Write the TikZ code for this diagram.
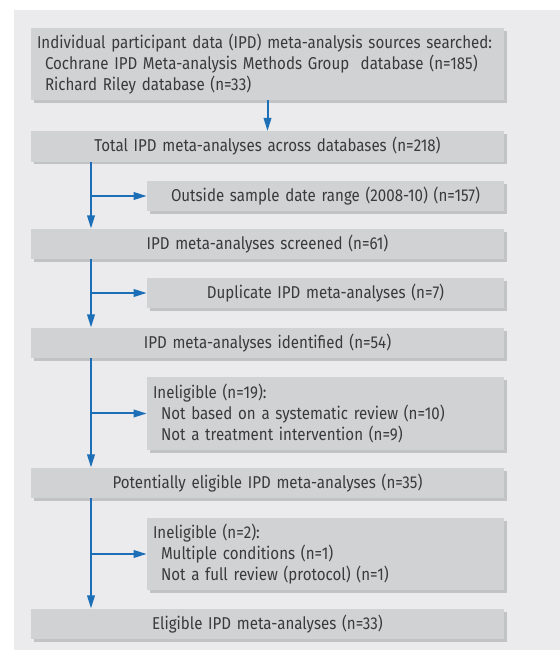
\documentclass[tikz,border=0pt]{standalone}
\usepackage{fontspec}
\setmainfont{Fira Sans}[FakeStretch=0.88]
\usepackage{xcolor}
\usetikzlibrary{arrows.meta,shadows}

\definecolor{panelgray}{HTML}{EBEBED}
\definecolor{boxgray}{HTML}{D1D2D4}
\definecolor{shadegray}{HTML}{C2C3C5}
\definecolor{flowblue}{HTML}{1C6FB7}
\definecolor{textgray}{HTML}{3A3A3C}

\begin{document}
\begin{tikzpicture}[
	box/.style={fill=boxgray, text=textgray, inner xsep=0.15cm, inner ysep=0pt,
		font=\fontsize{12.2}{14.9}\selectfont,
		drop shadow={shadow xshift=0.07cm, shadow yshift=-0.07cm, fill=shadegray, opacity=1}},
	mainbox/.style={box, minimum width=11.825cm, text width=11.525cm, minimum height=0.76cm},
	sidebox/.style={box, minimum width=8.925cm, text width=8.625cm, minimum height=0.76cm},
	flow/.style={draw=flowblue, line width=0.05cm, -{Triangle[length=0.33cm, width=0.19cm]}}
]
	\useasboundingbox (0, 0) rectangle (14, 16.25);
	\fill[panelgray] (0.35, 0) rectangle (14, 16);

	\node[mainbox, align=left, minimum height=1.8cm] (b1) at (6.6875, 14.65)
		{Individual participant data (IPD) meta-analysis sources searched:\\
		\hspace*{0.2cm}Cochrane IPD Meta-analysis Methods Group\ \ database (n=185)\\
		\hspace*{0.2cm}Richard Riley database (n=33)};
	\node[mainbox, align=center] (b2) at (6.6875, 12.5875) {Total IPD meta-analyses across databases (n=218)};
	\node[sidebox, align=center] (b3) at (8.1375, 11.35) {Outside sample date range (2008-10) (n=157)};
	\node[mainbox, align=center] (b4) at (6.6875, 10.15) {IPD meta-analyses screened (n=61)};
	\node[sidebox, align=center] (b5) at (8.1375, 8.925) {Duplicate IPD meta-analyses (n=7)};
	\node[mainbox, align=center] (b6) at (6.6875, 7.675) {IPD meta-analyses identified (n=54)};
	\node[sidebox, align=left, minimum height=1.825cm] (b7) at (8.1375, 5.9125)
		{Ineligible (n=19):\\
		\hspace*{0.2cm}Not based on a systematic review (n=10)\\
		\hspace*{0.2cm}Not a treatment intervention (n=9)};
	\node[mainbox, align=center] (b8) at (6.6875, 4.175) {Potentially eligible IPD meta-analyses (n=35)};
	\node[sidebox, align=left, minimum height=1.8cm] (b9) at (8.1375, 2.4)
		{Ineligible (n=2):\\
		\hspace*{0.2cm}Multiple conditions (n=1)\\
		\hspace*{0.2cm}Not a full review (protocol) (n=1)};
	\node[mainbox, align=center] (b10) at (6.6875, 0.65) {Eligible IPD meta-analyses (n=33)};

	\coordinate (trunk) at (2.275, 0);

	% Main flow down the left side
	\draw[flow] (b1) -- (b2);
	\draw[flow] (b2.south -| trunk) -- (b4.north -| trunk);
	\draw[flow] (b4.south -| trunk) -- (b6.north -| trunk);
	\draw[flow] (b6.south -| trunk) -- (b8.north -| trunk);
	\draw[flow] (b8.south -| trunk) -- (b10.north -| trunk);

	% Exclusions to the right
	\draw[flow] (b3.west -| trunk) -- (b3.west);
	\draw[flow] (b5.west -| trunk) -- (b5.west);
	\draw[flow] (b7.west -| trunk) -- (b7.west);
	\draw[flow] (b9.west -| trunk) -- (b9.west);
\end{tikzpicture}
\end{document}
